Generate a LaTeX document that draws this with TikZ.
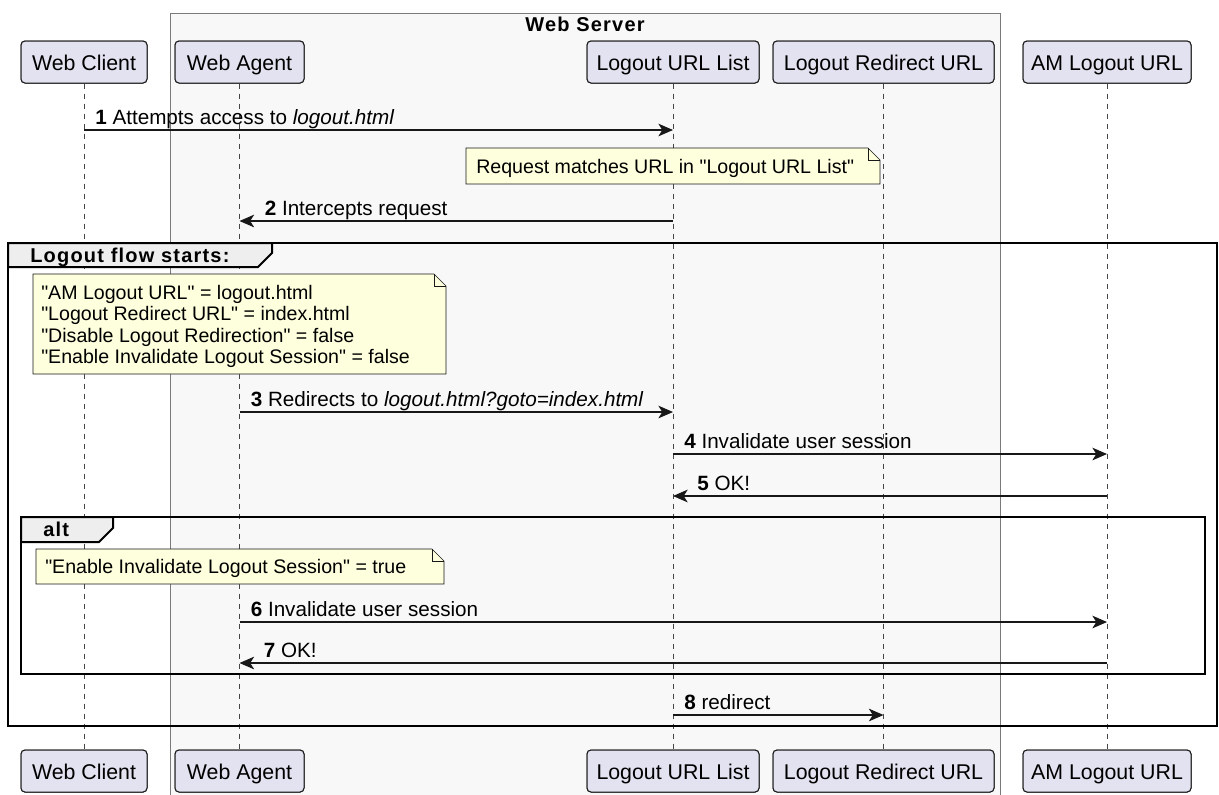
\documentclass[tikz,border=0pt]{standalone}
\usepackage{fontspec}
\setmainfont{Liberation Sans}
\newfontfamily\plainsans{Liberation Sans}
\newfontfamily\trackfont[LetterSpace=6]{Liberation Sans}
\usetikzlibrary{arrows.meta}
\definecolor{partfill}{HTML}{E2E2F0}
\definecolor{lineclr}{HTML}{181818}
\definecolor{notefill}{HTML}{FEFFDD}
\definecolor{srvfill}{HTML}{F8F8F8}
\definecolor{srvline}{HTML}{7A7A7A}
\definecolor{tabfill}{HTML}{EEEEEE}
\begin{document}
\begin{tikzpicture}[x=0.75pt,y=-0.75pt,
  participant/.style={draw=lineclr, fill=partfill, rounded corners=3pt, line width=0.75pt,
    minimum height=31.5pt, inner sep=0pt, text height=13pt, text depth=1pt,
    font=\plainsans\fontsize{16}{19}\selectfont},
  lifeline/.style={draw=lineclr!80, line width=0.5pt, dash pattern=on 3.75pt off 3.75pt},
  msg/.style={draw=lineclr, line width=0.8pt, -{Stealth[length=11pt,width=9.5pt,inset=3pt]}},
  msglabel/.style={font=\plainsans\fontsize{15.5}{18}\selectfont, inner sep=0pt, anchor=base west},
  notebox/.style={draw=lineclr, fill=notefill, line width=0.5pt},
  notetext/.style={font=\plainsans\fontsize{14.7}{16}\selectfont, inner sep=0pt, align=left},
  framebox/.style={draw=black, line width=1.5pt},
  tabbox/.style={draw=black, fill=tabfill, line width=1.5pt, line join=miter},
  tablabel/.style={font=\trackfont\bfseries\fontsize{15}{17}\selectfont, inner sep=0pt, anchor=base west},
  srvbox/.style={draw=srvline, fill=srvfill, line width=0.75pt}
]
\useasboundingbox (0,0) rectangle (1219,794);
\fill[white] (0,0) rectangle (1219,794);

% Web Server box
\path[srvbox] (170,13) rectangle (1000,796);
\node[font=\trackfont\bfseries\fontsize{15}{17}\selectfont, inner sep=0pt, anchor=base] (srvtitle) at (585,31) {Web Server};

% participants (named, drawn first for lifelines)
\node[participant, minimum width=94.5pt] (wcT) at (84,62) {Web Client};
\node[participant, minimum width=96.75pt] (waT) at (239.5,62) {Web Agent};
\node[participant, minimum width=129pt] (lulT) at (673,62) {Logout URL List};
\node[participant, minimum width=165.75pt] (lruT) at (883.5,62) {Logout Redirect URL};
\node[participant, minimum width=126pt] (amlT) at (1107,62) {AM Logout URL};
\node[participant, minimum width=94.5pt] (wcB) at (84,771) {Web Client};
\node[participant, minimum width=96.75pt] (waB) at (239.5,771) {Web Agent};
\node[participant, minimum width=129pt] (lulB) at (673,771) {Logout URL List};
\node[participant, minimum width=165.75pt] (lruB) at (883.5,771) {Logout Redirect URL};
\node[participant, minimum width=126pt] (amlB) at (1107,771) {AM Logout URL};

% lifelines
\draw[lifeline] (wcT) -- (wcB);
\draw[lifeline] (waT) -- (waB);
\draw[lifeline] (lulT) -- (lulB);
\draw[lifeline] (lruT) -- (lruB);
\draw[lifeline] (amlT) -- (amlB);

% participants again on top of lifelines
\node[participant, minimum width=94.5pt] at (84,62) {Web Client};
\node[participant, minimum width=96.75pt] at (239.5,62) {Web Agent};
\node[participant, minimum width=129pt] at (673,62) {Logout URL List};
\node[participant, minimum width=165.75pt] at (883.5,62) {Logout Redirect URL};
\node[participant, minimum width=126pt] at (1107,62) {AM Logout URL};
\node[participant, minimum width=94.5pt] at (84,771) {Web Client};
\node[participant, minimum width=96.75pt] at (239.5,771) {Web Agent};
\node[participant, minimum width=129pt] at (673,771) {Logout URL List};
\node[participant, minimum width=165.75pt] at (883.5,771) {Logout Redirect URL};
\node[participant, minimum width=126pt] at (1107,771) {AM Logout URL};

% group frames
\draw[framebox] (8,243) rectangle (1217,726);
\draw[tabbox] (8,243) -- (272,243) -- (272,253) -- (258,267) -- (8,267) -- cycle;
\node[tablabel] (grp1) at (30,262) {Logout flow starts:};
\draw[framebox] (21,517) rectangle (1205,674);
\draw[tabbox] (21,517) -- (113,517) -- (113,528) -- (99,542) -- (21,542) -- cycle;
\node[tablabel] (grp2) at (43,536) {alt};

% notes
\path[notebox] (466,148) -- (868,148) -- (880,160) -- (880,184) -- (466,184) -- cycle;
\draw[lineclr, line width=0.5pt] (868,148) -- (868,160) -- (880,160);
\node[notetext, anchor=base west] (note1) at (476,173) {Request matches URL in "Logout URL List"};

\path[notebox] (33,274) -- (434,274) -- (446,286) -- (446,374) -- (33,374) -- cycle;
\draw[lineclr, line width=0.5pt] (434,274) -- (434,286) -- (446,286);
\node[notetext, anchor=north west] (note2) at (41,285) {"AM Logout URL" = logout.html\\"Logout Redirect URL" = index.html\\"Disable Logout Redirection" = false\\"Enable Invalidate Logout Session" = false};

\path[notebox] (36,549) -- (432,549) -- (444,561) -- (444,584) -- (36,584) -- cycle;
\draw[lineclr, line width=0.5pt] (432,549) -- (432,561) -- (444,561);
\node[notetext, anchor=base west] (note3) at (45,573) {"Enable Invalidate Logout Session" = true};

% message endpoints
\coordinate (m1a) at (wcT |- 0,130);  \coordinate (m1b) at (lulT |- 0,130);
\coordinate (m2a) at (lulT |- 0,221); \coordinate (m2b) at (waT |- 0,221);
\coordinate (m3a) at (waT |- 0,412);  \coordinate (m3b) at (lulT |- 0,412);
\coordinate (m4a) at (lulT |- 0,454); \coordinate (m4b) at (amlT |- 0,454);
\coordinate (m5a) at (amlT |- 0,496); \coordinate (m5b) at (lulT |- 0,496);
\coordinate (m6a) at (waT |- 0,622);  \coordinate (m6b) at (amlT |- 0,622);
\coordinate (m7a) at (amlT |- 0,663); \coordinate (m7b) at (waT |- 0,663);
\coordinate (m8a) at (lulT |- 0,715); \coordinate (m8b) at (lruT |- 0,715);

\draw[msg] (m1a) -- (m1b);
\draw[msg] (m2a) -- (m2b);
\draw[msg] (m3a) -- (m3b);
\draw[msg] (m4a) -- (m4b);
\draw[msg] (m5a) -- (m5b);
\draw[msg] (m6a) -- (m6b);
\draw[msg] (m7a) -- (m7b);
\draw[msg] (m8a) -- (m8b);

\node[msglabel] (l1) at ([shift={(11,-6)}]m1a) {\textbf{1} Attempts access to \textit{logout.html}};
\node[msglabel] (l2) at ([shift={(25,-6)}]m2b) {\textbf{2} Intercepts request};
\node[msglabel] (l3) at ([shift={(11,-6)}]m3a) {\textbf{3} Redirects to \textit{logout.html?goto=index.html}};
\node[msglabel] (l4) at ([shift={(11,-6)}]m4a) {\textbf{4} Invalidate user session};
\node[msglabel] (l5) at ([shift={(24,-6)}]m5b) {\textbf{5} OK!};
\node[msglabel] (l6) at ([shift={(11,-6)}]m6a) {\textbf{6} Invalidate user session};
\node[msglabel] (l7) at ([shift={(24,-6)}]m7b) {\textbf{7} OK!};
\node[msglabel] (l8) at ([shift={(11,-6)}]m8a) {\textbf{8} redirect};
\end{tikzpicture}
\end{document}
